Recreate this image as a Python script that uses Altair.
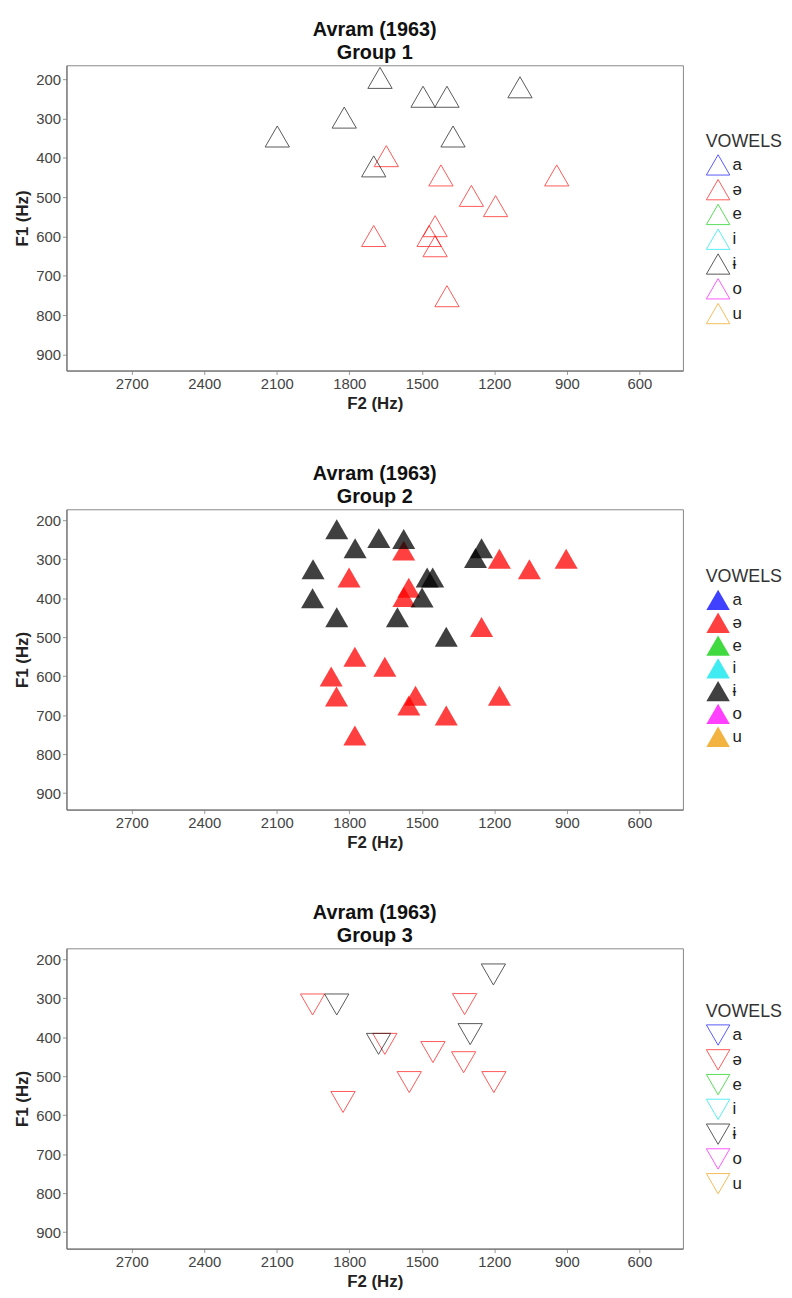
import altair as alt
import pandas as pd

# vowel categories and colours (legend order)
vowels = ["a", "ə", "e", "i", "ɨ", "o", "u"]
vowel_colors = ["#0000FF", "#FF0000", "#00CD00", "#00E5EE", "#000000", "#FF00FF", "#EE9A00"]

f2_ticks = [600, 900, 1200, 1500, 1800, 2100, 2400, 2700]
f1_ticks = [200, 300, 400, 500, 600, 700, 800, 900]

# Group 1 (hollow up-triangles)
g1_schwa_f2 = [1647, 1421, 1295, 1195, 942, 1445, 1470, 1445, 1699, 1396]
g1_schwa_f1 = [396, 445, 497, 523, 445, 574, 599, 625, 599, 752]
g1_barred_f2 = [1673, 1495, 1396, 1094, 1821, 2098, 1371, 1699]
g1_barred_f1 = [197, 245, 245, 221, 298, 346, 346, 422]

# Group 2 (filled up-triangles)
g2_schwa_f2 = [1575, 1801, 1554, 1574, 1179, 1055, 903, 1253, 1777, 1653, 1875, 1853, 1526, 1554, 1399, 1179, 1777]
g2_schwa_f1 = [278, 347, 373, 397, 299, 326, 299, 474, 550, 576, 601, 652, 650, 675, 701, 650, 752]
g2_barred_f2 = [1852, 1776, 1678, 1575, 1950, 1952, 1852, 1601, 1478, 1455, 1499, 1399, 1253, 1278]
g2_barred_f1 = [223, 272, 246, 248, 326, 400, 449, 449, 347, 347, 398, 499, 272, 297]

# Group 3 (hollow down-triangles)
g3_schwa_f2 = [1952, 1653, 1826, 1454, 1327, 1202, 1552, 1323]
g3_schwa_f1 = [316, 417, 566, 438, 464, 515, 515, 315]
g3_barred_f2 = [1852, 1679, 1300, 1204]
g3_barred_f1 = [316, 417, 392, 239]


def frame(schwa_f2, schwa_f1, barred_f2, barred_f1):
    return pd.DataFrame({
        "F2": schwa_f2 + barred_f2,
        "F1": schwa_f1 + barred_f1,
        "VOWELS": ["ə"] * len(schwa_f2) + ["ɨ"] * len(barred_f2),
    })


def panel(df, group, shape, filled, size, opacity, ydom, legend_y, height):
    color_scale = alt.Scale(domain=vowels, range=vowel_colors)
    legend = alt.Legend(
        orient="none", legendX=645, legendY=legend_y, symbolType=shape,
        symbolSize=560, symbolStrokeWidth=1, symbolOpacity=opacity,
        titleFontSize=18, titleFontWeight="normal", titleColor="#333",
        labelFontSize=17, labelColor="#222", labelOffset=2, rowPadding=-1,
        titlePadding=2, padding=0,
    )
    enc_color = alt.Color("VOWELS:N", scale=color_scale, legend=legend)
    mark = alt.Chart(df).mark_point(
        shape=shape, filled=filled, size=size, opacity=opacity, strokeWidth=1
    )
    return mark.encode(
        x=alt.X("F2:Q", title="F2 (Hz)",
                scale=alt.Scale(domain=[420, 2970], reverse=True, nice=False, zero=False),
                axis=alt.Axis(values=f2_ticks, format="d", grid=False)),
        y=alt.Y("F1:Q", title="F1 (Hz)",
                scale=alt.Scale(domain=ydom, reverse=True, nice=False, zero=False),
                axis=alt.Axis(values=f1_ticks, format="d", grid=False)),
        color=enc_color,
    ).properties(
        width=622, height=height,
        title=alt.TitleParams(["Avram (1963)", "Group " + str(group)],
                              fontSize=20, fontWeight="bold", lineHeight=24,
                              offset=2, anchor="middle", color="#111"),
    )


p1 = panel(frame(g1_schwa_f2, g1_schwa_f1, g1_barred_f2, g1_barred_f1),
           1, "triangle-up", False, 600, 0.65, [165, 941], 68, 308)
p2 = panel(frame(g2_schwa_f2, g2_schwa_f1, g2_barred_f2, g2_barred_f1),
           2, "triangle-up", True, 540, 0.75, [172, 942], 59, 303)
p3 = panel(frame(g3_schwa_f2, g3_schwa_f1, g3_barred_f2, g3_barred_f1),
           3, "triangle-down", False, 600, 0.65, [172, 942], 55, 303)

chart = alt.vconcat(p1, p2, p3, spacing=51).resolve_scale(color="independent")
chart = chart.configure(font="Liberation Sans")
chart = chart.configure_view(stroke="#888", strokeWidth=1)
chart = chart.configure_axis(
    labelFontSize=15, labelColor="#444", titleFontSize=17, titleFontWeight="bold",
    titleColor="#222", tickSize=4, tickColor="#999", domainColor="#666",
)
chart = chart.properties(padding={"top": 5, "left": 5, "right": 0, "bottom": 0})

chart.save("out.html", embed_options={"renderer": "svg", "actions": False})
